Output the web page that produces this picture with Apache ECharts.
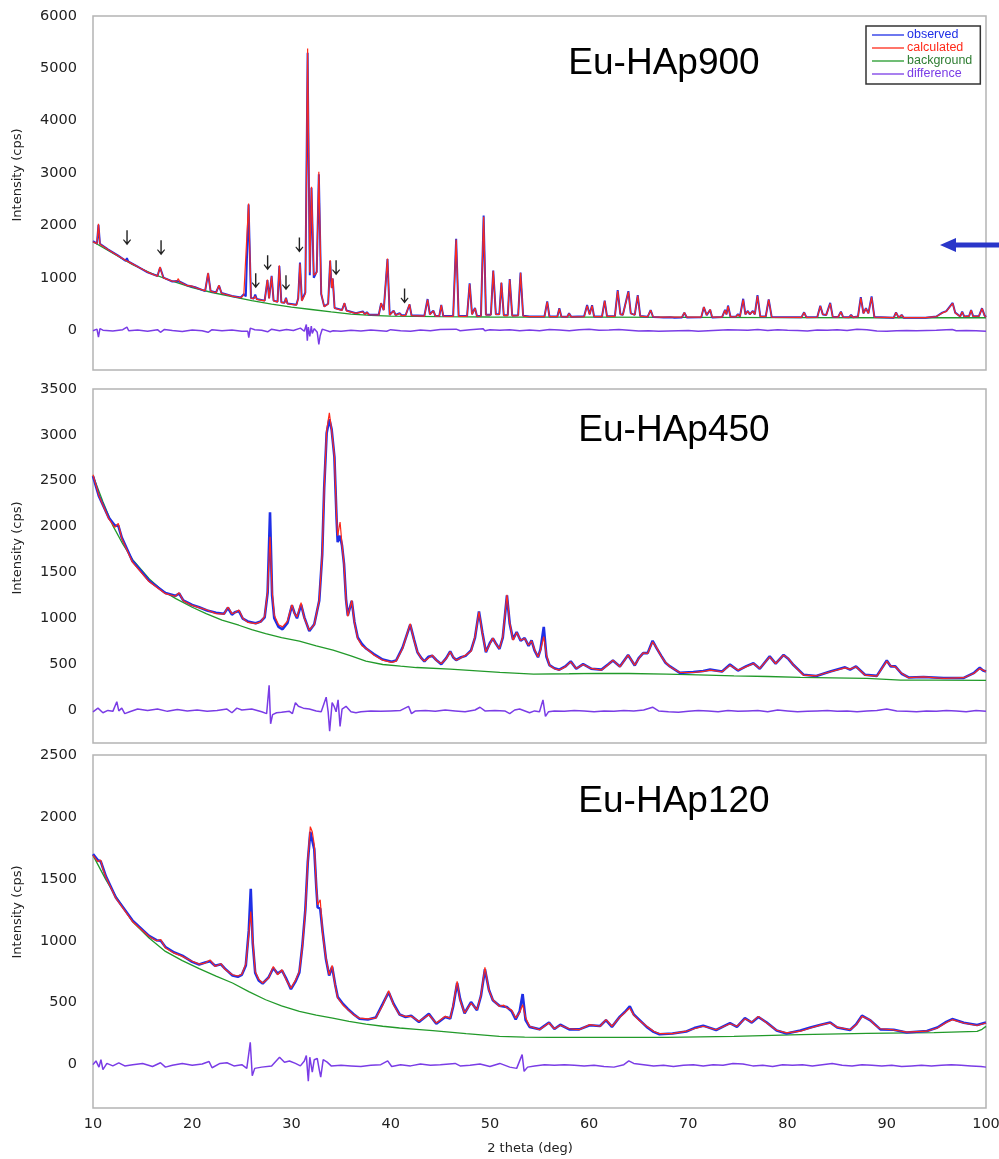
<!DOCTYPE html>
<html>
<head>
<meta charset="utf-8">
<script src="https://cdn.jsdelivr.net/npm/echarts@6/dist/echarts.min.js"></script>
<style>html,body{margin:0;padding:0;background:#fff;}#c{width:999px;height:1159px;}</style>
</head>
<body>
<div id="c"></div>
<script>
// ---------- tick labels ----------
const xTicks = [10,20,30,40,50,60,70,80,90,100];
const yTicks900 = [0,1000,2000,3000,4000,5000,6000];
const yTicks450 = [0,500,1000,1500,2000,2500,3000,3500];
const yTicks120 = [0,500,1000,1500,2000,2500];
const sampleNames = ['Eu-HAp900','Eu-HAp450','Eu-HAp120'];
const seriesNames = ['observed','calculated','background','difference'];

// ---------- Eu-HAp900 ----------
const bg900 = [[10,1690],[12,1470],[14,1250],[16,1075],[18,935],[20,815],[22,720],[24,640],[26,565],[28,500],[30,440],[32,395],[34,350],[36,308],[38,282],[40,270],[45,258],[50,252],[60,250],[70,245],[80,242],[90,238],[100,238]];
const calc900 = [[10,1690],[10.4,1650],[10.55,2030],[10.7,1640],[11.5,1540],[12.5,1420],[13.3,1330],[13.42,1340],[13.55,1310],[14.5,1210],[15.5,1110],[16.5,1030],[16.62,1120],[16.76,1210],[16.9,1110],[17.1,1000],[18.0,935],[18.45,935],[18.6,985],[18.75,920],[19.5,850],[20.0,840],[20.3,815],[21.3,750],[21.6,1095],[21.85,745],[22.4,715],[22.7,860],[22.95,705],[24.0,650],[24.9,620],[25.2,675],[25.4,640],[25.68,2420],[25.92,610],[26.2,600],[26.35,650],[26.5,590],[27.3,560],[27.58,968],[27.75,600],[28.0,1030],[28.2,560],[28.6,540],[28.78,1240],[28.98,530],[29.3,520],[29.45,610],[29.6,505],[30.5,480],[30.68,600],[30.86,1275],[31.05,560],[31.4,700],[31.63,5380],[31.85,1100],[32.02,2740],[32.25,1050],[32.55,1100],[32.76,3025],[33.0,700],[33.3,450],[33.7,500],[33.9,1340],[34.05,800],[34.16,990],[34.35,420],[35.1,380],[35.34,520],[35.55,370],[36.5,320],[37.2,350],[37.4,300],[37.6,340],[37.8,295],[38.8,290],[39.04,520],[39.3,380],[39.68,1370],[39.9,290],[40.3,370],[40.5,285],[40.9,320],[41.1,280],[41.5,280],[41.9,497],[42.1,280],[43.4,270],[43.72,586],[43.95,300],[44.3,370],[44.5,270],[44.9,268],[45.1,478],[45.3,268],[46.3,265],[46.6,1733],[46.85,265],[47.7,265],[47.96,879],[48.2,300],[48.5,420],[48.7,262],[49.1,270],[49.37,2165],[49.6,290],[50.1,290],[50.34,1133],[50.6,300],[50.95,300],[51.16,911],[51.4,280],[51.8,280],[52.0,968],[52.25,275],[52.85,280],[53.09,1096],[53.35,270],[54.0,258],[54.2,290],[54.4,258],[55.5,258],[55.78,541],[56.0,258],[56.8,258],[57.0,414],[57.2,258],[57.8,255],[57.98,318],[58.2,255],[59.5,260],[59.8,471],[60.05,300],[60.3,471],[60.5,258],[61.3,260],[61.57,560],[61.8,265],[62.6,265],[62.88,752],[63.15,300],[63.4,290],[63.96,732],[64.2,320],[64.6,290],[64.9,662],[65.15,270],[65.9,255],[66.2,382],[66.45,255],[67.1,250],[67.3,275],[67.5,250],[68.2,250],[68.4,270],[68.6,248],[69.35,248],[69.6,337],[69.85,248],[71.3,250],[71.56,446],[71.85,290],[72.2,395],[72.4,248],[73.4,250],[73.7,382],[73.85,300],[74.0,459],[74.25,255],[74.8,255],[75.0,300],[75.2,260],[75.53,586],[75.75,300],[76.0,363],[76.2,300],[76.5,363],[76.7,300],[76.97,656],[77.25,260],[77.8,260],[78.1,586],[78.4,250],[81.4,245],[81.67,337],[81.9,245],[83.0,248],[83.3,459],[83.55,300],[83.9,290],[84.3,510],[84.55,255],[85.1,250],[85.38,350],[85.6,248],[86.2,245],[86.4,290],[86.6,245],[87.1,260],[87.38,618],[87.65,320],[87.9,414],[88.15,320],[88.47,630],[88.75,250],[90.7,240],[90.93,337],[91.2,240],[91.5,290],[91.7,240],[92.4,240],[92.6,265],[92.8,240],[93.5,240],[93.7,262],[93.9,240],[95.0,260],[95.6,330],[96.0,360],[96.64,510],[96.9,330],[97.4,260],[97.6,350],[97.8,260],[98.3,270],[98.5,382],[98.7,265],[99.3,270],[99.6,414],[99.85,280],[100,250]];
const obs900 = [[10,1700],[10.4,1655],[10.55,2010],[10.7,1650],[11.5,1545],[12.5,1430],[13.3,1325],[13.42,1375],[13.55,1315],[14.5,1215],[15.5,1105],[16.5,1035],[16.62,1110],[16.76,1195],[16.9,1120],[17.1,1005],[18.0,930],[18.45,940],[18.6,975],[18.75,925],[19.5,855],[20.0,835],[20.3,820],[21.3,745],[21.6,1085],[21.85,750],[22.4,720],[22.7,850],[22.95,710],[24.0,655],[24.9,625],[25.2,690],[25.4,645],[25.68,2400],[25.92,615],[26.2,605],[26.35,680],[26.5,595],[27.3,565],[27.58,955],[27.75,610],[28.0,1040],[28.2,565],[28.6,545],[28.78,1225],[28.98,535],[29.3,525],[29.45,620],[29.6,510],[30.5,485],[30.68,610],[30.86,1290],[31.05,570],[31.4,720],[31.63,5300],[31.85,1050],[32.02,2720],[32.25,1000],[32.55,1120],[32.76,2980],[33.0,690],[33.3,455],[33.7,505],[33.9,1320],[34.05,810],[34.16,985],[34.35,425],[35.1,385],[35.34,515],[35.55,375],[36.5,325],[37.2,360],[37.4,305],[37.6,345],[37.8,300],[38.8,295],[39.04,515],[39.3,385],[39.68,1360],[39.9,295],[40.3,375],[40.5,290],[40.9,325],[41.1,285],[41.5,285],[41.9,490],[42.1,285],[43.4,275],[43.72,595],[43.95,305],[44.3,375],[44.5,275],[44.9,272],[45.1,485],[45.3,272],[46.3,270],[46.6,1745],[46.85,270],[47.7,270],[47.96,895],[48.2,305],[48.5,425],[48.7,266],[49.1,275],[49.37,2190],[49.6,295],[50.1,295],[50.34,1140],[50.6,305],[50.95,305],[51.16,905],[51.4,285],[51.8,285],[52.0,975],[52.25,280],[52.85,285],[53.09,1100],[53.35,275],[54.0,262],[54.2,295],[54.4,262],[55.5,262],[55.78,548],[56.0,262],[56.8,262],[57.0,420],[57.2,262],[57.8,258],[57.98,322],[58.2,258],[59.5,265],[59.8,480],[60.05,305],[60.3,478],[60.5,262],[61.3,262],[61.57,565],[61.8,268],[62.6,270],[62.88,765],[63.15,305],[63.4,295],[63.96,745],[64.2,322],[64.6,292],[64.9,668],[65.15,272],[65.9,255],[66.2,385],[66.45,252],[67.1,245],[67.3,272],[67.5,242],[68.2,245],[68.4,266],[68.6,240],[69.35,242],[69.6,335],[69.85,242],[71.3,245],[71.56,440],[71.85,285],[72.2,392],[72.4,244],[73.4,250],[73.7,388],[73.85,302],[74.0,470],[74.25,258],[74.8,258],[75.0,305],[75.2,262],[75.53,600],[75.75,302],[76.0,368],[76.2,302],[76.5,368],[76.7,302],[76.97,668],[77.25,262],[77.8,262],[78.1,590],[78.4,252],[81.4,245],[81.67,342],[81.9,245],[83.0,250],[83.3,468],[83.55,302],[83.9,292],[84.3,522],[84.55,258],[85.1,252],[85.38,355],[85.6,250],[86.2,246],[86.4,292],[86.6,246],[87.1,262],[87.38,632],[87.65,322],[87.9,420],[88.15,322],[88.47,645],[88.75,252],[90.7,240],[90.93,340],[91.2,240],[91.5,292],[91.7,240],[92.4,240],[92.6,268],[92.8,240],[93.5,240],[93.7,265],[93.9,240],[95.0,262],[95.6,335],[96.0,365],[96.64,520],[96.9,335],[97.4,262],[97.6,355],[97.8,262],[98.3,272],[98.5,385],[98.7,268],[99.3,272],[99.6,420],[99.85,282],[100,252]];
const diff900 = [[10,-10],[10.4,20],[10.55,-130],[10.7,30],[11,0],[12,-15],[13,10],[13.42,60],[13.6,-10],[14.5,5],[15.5,-20],[16.5,10],[16.8,-40],[17.2,15],[18,-5],[19,-25],[20,5],[21,-10],[21.6,-40],[22,10],[23,-10],[24,5],[25,-20],[25.6,-20],[25.7,-140],[25.85,40],[26.3,10],[27,0],[27.6,-30],[28,20],[28.8,-10],[29.5,15],[30.2,-5],[30.9,40],[31.3,-20],[31.5,110],[31.6,-200],[31.7,60],[31.85,-120],[32.0,80],[32.1,-60],[32.3,30],[32.6,-40],[32.76,-270],[32.9,-100],[33.1,20],[33.9,-30],[34.2,-10],[35,-20],[36,0],[37,-15],[38,5],[39.6,-20],[40,10],[41,-10],[42,-20],[43,5],[44,-10],[45,15],[46.6,20],[47,-10],[48,10],[49.3,30],[49.5,-10],[50,10],[51,0],[52,10],[53,-10],[54,5],[55,-10],[56,15],[57,5],[58,-10],[59,10],[60,20],[61,0],[62,5],[63,15],[64,0],[65,-15],[66,-10],[67,-20],[68,-15],[69,-10],[70,-5],[71,-20],[72,-10],[73,0],[74,10],[75,5],[76,0],[77,15],[78,-5],[79,10],[80,0],[81,-5],[82,-15],[83,5],[84,0],[85,10],[86,-5],[87,20],[88,10],[89,-15],[90,-20],[91,-10],[92,-5],[93,-10],[94,-5],[95,0],[96,10],[96.6,15],[97,-10],[98,-5],[99,-10],[100,-20]];
const arrows900 = [[13.43,1624],[16.86,1433],[26.4,800],[27.6,1147],[29.45,764],[30.8,1484],[34.5,1051],[41.4,510]];

// ---------- Eu-HAp450 ----------
const bg450 = [[10,2555],[11,2270],[12,2010],[13,1810],[14,1640],[15.65,1431],[17,1300],[18.35,1214],[20,1120],[21.4,1051],[23,980],[24.7,924],[26,875],[27.4,833],[29,790],[30.8,750],[32.5,700],[34.2,652],[36,590],[37.5,533],[39.2,496],[41,478],[42.6,463],[46,445],[51,409],[54.4,390],[58,395],[61,400],[64,398],[67.8,390],[71,383],[74.6,373],[78,365],[81.3,355],[84.5,350],[88,344],[91.4,326],[95,326],[100,322]];
const calc450 = [[10,2565],[10.6,2337],[11.6,2083],[12.2,1990],[12.55,2035],[12.9,1870],[13.97,1612],[15.65,1400],[17.3,1268],[18.3,1240],[18.68,1279],[19.1,1190],[20,1140],[20.7,1116],[21.5,1090],[22.4,1051],[23.2,1045],[23.6,1123],[24.0,1051],[24.3,1060],[24.7,1090],[25.1,1000],[25.6,955],[26.4,942],[26.9,960],[27.3,1020],[27.6,1300],[27.84,1890],[28.05,1300],[28.27,1032],[28.7,930],[29.1,906],[29.6,970],[30.05,1148],[30.3,1050],[30.56,1014],[30.97,1170],[31.3,1000],[31.8,870],[32.3,930],[32.8,1195],[33.1,1700],[33.3,2410],[33.55,3050],[33.82,3240],[34.05,3050],[34.33,2770],[34.55,2100],[34.66,1900],[34.9,2050],[35.1,1800],[35.3,1590],[35.5,1200],[35.68,1020],[36.08,1196],[36.35,950],[36.68,780],[37.1,700],[37.53,670],[38.3,600],[39.2,543],[40.1,520],[40.55,533],[41.2,670],[41.97,942],[42.35,760],[42.7,634],[43.1,560],[43.4,533],[43.8,565],[44.2,598],[44.6,540],[45.1,507],[45.6,560],[46.0,634],[46.3,580],[46.6,543],[47.1,570],[47.55,598],[48.1,640],[48.5,800],[48.9,1069],[49.25,830],[49.6,634],[50.0,720],[50.3,786],[50.6,720],[50.96,670],[51.3,800],[51.72,1257],[52.0,950],[52.33,761],[52.7,844],[53.1,761],[53.5,779],[53.9,706],[54.2,753],[54.5,660],[54.85,579],[55.1,650],[55.43,800],[55.7,600],[56.0,489],[56.5,450],[57.0,435],[57.6,470],[58.15,525],[58.7,453],[59.4,496],[60.2,453],[61.25,435],[61.9,490],[62.4,543],[63.1,471],[63.5,530],[63.93,598],[64.6,489],[65.0,560],[65.45,623],[65.9,616],[66.4,743],[66.8,680],[67.3,579],[67.7,520],[68.15,471],[69.15,409],[70.5,409],[71.5,420],[72.2,435],[73.4,417],[74.2,489],[75.0,435],[75.8,470],[76.56,507],[77.2,453],[78.2,579],[78.8,507],[79.6,598],[80.1,560],[80.6,489],[81.6,381],[82.9,373],[84.3,417],[85.8,460],[86.3,445],[86.9,471],[87.8,381],[89.0,370],[90.0,533],[90.4,480],[90.86,471],[91.5,400],[92.2,352],[93.7,362],[95.74,344],[97.76,352],[98.8,400],[99.37,453],[99.7,435],[100,420]];
const obs450 = [[10,2550],[10.6,2330],[11.6,2095],[12.2,2010],[12.55,2010],[12.9,1880],[13.97,1625],[15.65,1410],[17.3,1275],[18.3,1245],[18.68,1270],[19.1,1195],[20,1145],[20.7,1120],[21.5,1085],[22.4,1060],[23.2,1050],[23.6,1115],[24.0,1040],[24.3,1065],[24.7,1080],[25.1,995],[25.6,965],[26.4,945],[26.9,965],[27.3,1010],[27.6,1280],[27.84,2155],[28.05,1250],[28.27,1000],[28.7,905],[29.1,880],[29.6,950],[30.05,1140],[30.3,1060],[30.56,1000],[30.97,1150],[31.3,1010],[31.8,860],[32.3,935],[32.8,1190],[33.1,1690],[33.3,2420],[33.55,3020],[33.82,3170],[34.05,3060],[34.33,2760],[34.55,2080],[34.66,1830],[34.9,1900],[35.1,1790],[35.3,1590],[35.5,1210],[35.68,1030],[36.08,1190],[36.35,960],[36.68,790],[37.1,720],[37.53,670],[38.3,610],[39.2,550],[40.1,525],[40.55,540],[41.2,680],[41.97,930],[42.35,770],[42.7,630],[43.1,565],[43.4,530],[43.8,580],[44.2,590],[44.6,545],[45.1,500],[45.6,565],[46.0,640],[46.3,575],[46.6,545],[47.1,575],[47.55,590],[48.1,650],[48.5,790],[48.9,1075],[49.25,840],[49.6,630],[50.0,730],[50.3,780],[50.6,725],[50.96,665],[51.3,790],[51.72,1250],[52.0,940],[52.33,770],[52.7,850],[53.1,755],[53.5,785],[53.9,700],[54.2,760],[54.5,650],[54.85,575],[55.1,660],[55.43,906],[55.7,580],[56.0,490],[56.5,455],[57.0,440],[57.6,475],[58.15,530],[58.7,450],[59.4,500],[60.2,450],[61.25,440],[61.9,495],[62.4,540],[63.1,475],[63.5,535],[63.93,600],[64.6,485],[65.0,565],[65.45,620],[65.9,620],[66.4,755],[66.8,675],[67.3,585],[67.7,515],[68.15,475],[69.15,405],[70.5,415],[71.5,425],[72.2,440],[73.4,420],[74.2,495],[75.0,430],[75.8,475],[76.56,510],[77.2,450],[78.2,585],[78.8,505],[79.6,600],[80.1,555],[80.6,490],[81.6,385],[82.9,370],[84.3,420],[85.8,465],[86.3,440],[86.9,475],[87.8,385],[89.0,372],[90.0,540],[90.4,475],[90.86,475],[91.5,395],[92.2,355],[93.7,360],[95.74,348],[97.76,350],[98.8,405],[99.37,460],[99.7,430],[100,420]];
const diff450 = [[10,-20],[10.5,20],[11,-30],[11.5,-5],[12,-15],[12.4,90],[12.6,-10],[12.9,20],[13.2,-40],[13.7,-20],[14.5,10],[15.5,-5],[16.5,10],[17.5,-15],[18.5,5],[19.5,-10],[20.5,0],[21.5,-15],[22.5,-5],[23.5,10],[24,-30],[24.5,20],[25,0],[26,10],[27,-20],[27.5,-40],[27.75,270],[27.9,-150],[28.1,-50],[28.5,-30],[29,-25],[29.8,-15],[30.1,-40],[30.4,80],[30.7,40],[31.2,20],[31.8,10],[32.5,-10],[33.0,-20],[33.5,140],[33.7,-20],[33.85,-230],[34.1,80],[34.3,40],[34.5,-20],[34.7,110],[34.9,-180],[35.1,10],[35.5,40],[36,-20],[36.5,-30],[37,-20],[38,-10],[39,-15],[40,-10],[41,-5],[41.8,40],[42.1,-40],[42.5,-10],[43.5,-5],[44.5,-15],[45.5,0],[46.5,-10],[47.5,-20],[48.5,0],[49,30],[49.5,-10],[50.5,-5],[51.5,-10],[52,-40],[52.5,0],[53,10],[54,-30],[54.5,-10],[55,-20],[55.35,110],[55.6,-70],[55.9,-20],[56.5,-10],[57.5,-15],[58.5,-5],[59.5,-10],[60.5,-20],[61.5,-10],[62.5,-15],[63.5,-5],[64.5,-10],[65.5,0],[66.4,30],[67,-10],[68,-20],[69,-25],[70,-15],[71,-5],[72,-10],[73,-20],[74,-5],[75,-15],[76,-10],[77,-5],[78,-20],[79,0],[80,-10],[81,-20],[82,-15],[83,-10],[84,-5],[85,-15],[86,-10],[87,-20],[88,-10],[89,-5],[90,10],[91,-10],[92,-15],[93,-20],[94,-10],[95,-15],[96,-5],[97,-10],[98,-20],[99,-5],[100,-15]];

// ---------- Eu-HAp120 ----------
const bg120 = [[10,1690],[11.28,1496],[12.3,1358],[13.97,1156],[15.65,1022],[17.3,914],[19,840],[20.7,775],[22.4,715],[24.06,659],[25.7,590],[27.4,524],[29,475],[30.8,430],[32.5,400],[34.16,376],[35.8,350],[37.5,327],[39.2,310],[40.9,296],[42.6,285],[44.25,274],[47.6,250],[50.96,228],[53.5,222],[56,220],[62,220],[67.8,220],[74.6,228],[81.3,242],[88,253],[94.75,258],[99.1,268],[99.6,285],[100,309]];
const calc120 = [[10,1690],[10.5,1640],[10.78,1652],[11.0,1580],[11.3,1513],[12.3,1344],[13.97,1156],[15.65,1035],[16.4,1000],[16.83,1010],[17.3,941],[18.2,900],[19.0,874],[20.0,835],[20.7,812],[21.3,820],[21.8,845],[22.3,793],[22.9,815],[23.3,770],[24.06,726],[24.6,716],[25.0,730],[25.4,812],[25.7,1050],[25.9,1236],[26.1,1000],[26.35,753],[26.7,690],[27.1,659],[27.7,700],[28.17,793],[28.6,726],[29.05,766],[29.5,680],[29.95,618],[30.4,680],[30.8,753],[31.1,950],[31.4,1236],[31.65,1650],[31.9,1922],[32.1,1880],[32.3,1774],[32.5,1450],[32.64,1290],[32.9,1331],[33.15,1050],[33.48,860],[33.8,726],[34.1,801],[34.4,640],[34.67,538],[35.2,480],[35.68,444],[36.3,400],[36.86,376],[37.7,370],[38.5,376],[39.2,480],[39.8,597],[40.3,480],[40.9,403],[41.5,390],[42.07,390],[42.85,350],[43.85,403],[44.6,336],[45.5,390],[46.0,376],[46.3,480],[46.7,672],[47.0,520],[47.45,417],[48.1,497],[48.7,444],[49.1,560],[49.5,785],[49.9,600],[50.3,524],[50.96,470],[51.4,480],[51.7,460],[52.2,440],[52.6,376],[53.0,420],[53.3,484],[53.6,380],[54.0,310],[55.0,282],[55.96,336],[56.5,290],[57.1,318],[58.0,290],[59.0,282],[60.07,323],[61.1,310],[61.7,363],[62.3,310],[63.1,383],[63.6,420],[64.1,457],[64.5,400],[64.96,363],[65.8,310],[66.5,270],[67.1,250],[68.4,250],[69.8,270],[70.6,290],[71.5,310],[72.8,282],[74.2,330],[74.9,310],[75.7,370],[76.4,343],[77.06,390],[77.9,336],[78.9,278],[79.9,256],[81.3,270],[82.3,296],[83.46,323],[84.3,336],[85.0,303],[86.3,282],[86.9,320],[87.5,390],[88.3,363],[88.8,320],[89.35,290],[90.7,280],[92.0,263],[94.05,270],[95.1,296],[96.0,340],[96.6,363],[97.76,336],[99.1,316],[100,336]];
const obs120 = [[10,1700],[10.5,1650],[10.78,1640],[11.0,1590],[11.3,1520],[12.3,1350],[13.97,1165],[15.65,1040],[16.4,1005],[16.83,1000],[17.3,950],[18.2,905],[19.0,880],[20.0,830],[20.7,808],[21.3,825],[21.8,835],[22.3,798],[22.9,810],[23.3,775],[24.06,720],[24.6,710],[25.0,725],[25.4,800],[25.7,1080],[25.9,1419],[26.1,980],[26.35,740],[26.7,680],[27.1,655],[27.7,705],[28.17,780],[28.6,735],[29.05,760],[29.5,690],[29.95,610],[30.4,670],[30.8,745],[31.1,960],[31.4,1250],[31.65,1640],[31.9,1880],[32.1,1870],[32.3,1740],[32.5,1440],[32.64,1270],[32.9,1260],[33.15,1070],[33.48,850],[33.8,720],[34.1,790],[34.4,650],[34.67,545],[35.2,490],[35.68,450],[36.3,405],[36.86,370],[37.7,365],[38.5,380],[39.2,490],[39.8,585],[40.3,490],[40.9,405],[41.5,385],[42.07,395],[42.85,345],[43.85,410],[44.6,330],[45.5,385],[46.0,372],[46.3,470],[46.7,660],[47.0,530],[47.45,415],[48.1,505],[48.7,440],[49.1,555],[49.5,770],[49.9,605],[50.3,520],[50.96,475],[51.4,470],[51.7,465],[52.2,430],[52.6,365],[53.0,430],[53.3,570],[53.6,360],[54.0,305],[55.0,285],[55.96,340],[56.5,288],[57.1,322],[58.0,285],[59.0,285],[60.07,318],[61.1,312],[61.7,360],[62.3,305],[63.1,388],[63.6,425],[64.1,470],[64.5,405],[64.96,370],[65.8,305],[66.5,265],[67.1,245],[68.4,252],[69.8,268],[70.6,295],[71.5,315],[72.8,280],[74.2,335],[74.9,305],[75.7,375],[76.4,340],[77.06,385],[77.9,340],[78.9,275],[79.9,252],[81.3,275],[82.3,300],[83.46,325],[84.3,340],[85.0,300],[86.3,280],[86.9,325],[87.5,395],[88.3,360],[88.8,325],[89.35,285],[90.7,282],[92.0,260],[94.05,272],[95.1,300],[96.0,345],[96.6,368],[97.76,338],[99.1,320],[100,340]];
const diff120 = [[10,0],[10.3,30],[10.6,-20],[10.8,40],[11.0,-40],[11.4,10],[12,-10],[12.6,15],[13.2,-10],[14,0],[15,10],[16,-15],[16.8,15],[17.3,-20],[18,-5],[19,10],[20,-5],[21,5],[21.7,25],[22,-25],[22.8,10],[23.5,15],[24.2,-10],[25.0,0],[25.5,-30],[25.85,180],[26.05,-90],[26.3,-30],[27,-20],[28,-10],[28.8,60],[29.3,20],[29.8,30],[30.4,10],[30.9,-10],[31.3,30],[31.5,73],[31.7,-134],[31.85,60],[32.1,-60],[32.3,40],[32.6,50],[32.8,-40],[32.95,-100],[33.2,40],[33.6,20],[34,-10],[35,-5],[36,-10],[37,-15],[38,-5],[39,0],[39.7,30],[40.1,-15],[41,0],[42,-10],[43,5],[44,-5],[45,0],[46.5,10],[47,-10],[48,-5],[49,5],[50,-15],[51,10],[52,-20],[52.7,-30],[53.25,81],[53.45,-54],[53.8,-20],[54.5,-10],[55.5,0],[56.5,-5],[57.5,0],[58.5,-5],[59.5,-10],[60.5,-5],[61.5,-15],[62.5,-20],[63.5,0],[64.0,30],[64.5,10],[65.5,0],[66.5,-10],[67.5,-5],[68.5,-15],[69.5,-5],[70.5,0],[71.5,-10],[72.5,0],[73.5,-5],[74.5,10],[75.5,5],[76.5,-10],[77.5,-5],[78.5,-15],[79.5,0],[80.5,-5],[81.5,0],[82.5,-10],[83.5,0],[84.5,10],[85.5,-5],[86.5,-10],[87.5,0],[88.5,-5],[89.5,-10],[90.5,-5],[91.5,-15],[92.5,-10],[93.5,-5],[94.5,-10],[95.5,-5],[96.5,0],[97.5,-5],[98.5,-10],[99.5,-15],[100,-20]];

// ---------- build chart ----------
const COL = {obs:'#1f2fe6', calc:'#ff2a1a', bg:'#229a2a', diff:'#7a3ce6'};
const FONT = 'DejaVu Sans';
const panels = [
  {top:16, height:354, min:-760, max:6000, ticks:yTicks900, obs:obs900, calc:calc900, bg:bg900, diff:diff900, obsW:2},
  {top:389, height:354, min:-360, max:3500, ticks:yTicks450, obs:obs450, calc:calc450, bg:bg450, diff:diff450, obsW:2.6},
  {top:755, height:353, min:-350, max:2500, ticks:yTicks120, obs:obs120, calc:calc120, bg:bg120, diff:diff120, obsW:2.6}
];

const grid = panels.map(p => ({left:93, right:13, top:p.top, height:p.height, show:true,
  outerBoundsMode:'none', containLabel:false,
  borderColor:'#b4b4b4', borderWidth:1.5, backgroundColor:'#fff'}));
const xAxis = panels.map((p,i) => ({gridIndex:i, type:'value', min:10, max:100, interval:10,
  axisLine:{show:false}, axisTick:{show:false}, splitLine:{show:false},
  axisLabel:{show:i===2, margin:9, fontSize:14.5, fontFamily:FONT, color:'#222', customValues:xTicks,
    formatter:v => String(v)}}));
const yAxis = panels.map((p,i) => ({gridIndex:i, type:'value', min:p.min, max:p.max,
  axisLine:{show:false}, axisTick:{show:false}, splitLine:{show:false},
  axisLabel:{margin:16, fontSize:14.5, fontFamily:FONT, color:'#222', customValues:p.ticks,
    formatter:v => String(v)}}));

const series = [];
panels.forEach((p,i) => {
  const base = {type:'line', xAxisIndex:i, yAxisIndex:i, showSymbol:false, symbol:'none', silent:true};
  series.push(Object.assign({}, base, {name:'background', data:p.bg, color:COL.bg, lineStyle:{color:COL.bg, width:1.3}, z:2}));
  series.push(Object.assign({}, base, {name:'observed', data:p.obs, color:COL.obs, lineStyle:{color:COL.obs, width:p.obsW}, z:3}));
  const calc = Object.assign({}, base, {name:'calculated', data:p.calc, color:COL.calc, lineStyle:{color:COL.calc, width:1.2}, z:4});
  if (i === 0) {
    calc.markPoint = {
      symbol:'path://M3.3,0 L4.7,0 L4.7,11 L7.3,8.4 L8,9.1 L4,14 L0,9.1 L0.7,8.4 L3.3,11 Z',
      symbolSize:[8,15], symbolOffset:[0,'-50%'], silent:true,
      itemStyle:{color:'#222'}, label:{show:false},
      data: arrows900.map(a => ({coord:a}))
    };
  }
  series.push(calc);
  series.push(Object.assign({}, base, {name:'difference', data:p.diff, color:COL.diff, lineStyle:{color:COL.diff, width:1.5}, z:5}));
});

const titleCenters = [[664,64],[674,431],[674,802]];
const yTitleCenters = [[17.5,175],[17.5,548],[17.5,912]];
const graphic = [];
sampleNames.forEach((n,i) => graphic.push({type:'text', x:titleCenters[i][0], y:titleCenters[i][1], z:100,
  style:{text:n, fill:'#000', font:'37px "Liberation Sans", Arial, sans-serif', align:'center', verticalAlign:'middle'}}));
yTitleCenters.forEach(c => graphic.push({type:'text', x:c[0], y:c[1], rotation:Math.PI/2, z:100,
  style:{text:'Intensity (cps)', fill:'#222', font:'13px "DejaVu Sans"', align:'center', verticalAlign:'middle'}}));
graphic.push({type:'text', x:530, y:1149, z:100,
  style:{text:'2 theta (deg)', fill:'#222', font:'13px "DejaVu Sans"', align:'center', verticalAlign:'middle'}});
graphic.push({type:'polygon', z:100, shape:{points:[[940,245],[956,238],[956,242.5],[999,242.5],[999,247.5],[956,247.5],[956,252]]}, style:{fill:'#2a36c9'}});

const option = {
  animation:false,
  backgroundColor:'#fff',
  legend:{
    left:866, top:26, orient:'vertical', itemGap:0, icon:'rect', itemWidth:32, itemHeight:1.3,
    padding:[2.5,8,3.5,6], borderColor:'#333', borderWidth:1.5, backgroundColor:'#fff',
    selectedMode:false,
    textStyle:{fontSize:12.5, fontFamily:'"Liberation Sans", Arial, sans-serif', lineHeight:13, padding:[0,0,0,-2]},
    data:[
      {name:'observed', textStyle:{color:COL.obs}},
      {name:'calculated', textStyle:{color:COL.calc}},
      {name:'background', textStyle:{color:'#2e7d32'}},
      {name:'difference', textStyle:{color:COL.diff}}
    ]
  },
  grid, xAxis, yAxis, series, graphic
};
const chart = echarts.init(document.getElementById('c'), null, {renderer:'canvas'});
chart.setOption(option);
</script>
</body>
</html>
